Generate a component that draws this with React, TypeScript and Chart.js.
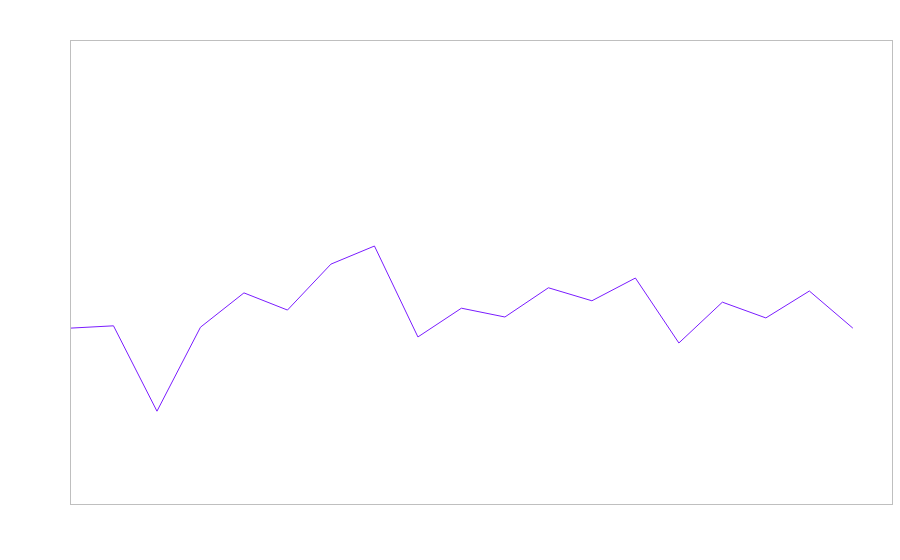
import React, { useEffect, useRef } from "react";
import { Chart, registerables } from "chart.js";

Chart.register(...registerables);

const xIndex: number[] = [0, 1, 2, 3, 4, 5, 6, 7, 8, 9, 10, 11, 12, 13, 14, 15, 16, 17, 18];
const seriesValues: number[] = [
  37.9, 38.4, 20.0, 38.1, 45.5, 41.8, 51.7, 55.6, 36.0, 42.2,
  40.3, 46.6, 43.8, 48.7, 34.7, 43.5, 40.1, 45.9, 37.9,
];
const xMin = 0;
const xMax = 18.9;
const yMin = 0;
const yMax = 100;

const frame = {
  id: "frame",
  afterDraw(chart: any) {
    const { ctx, chartArea } = chart;
    ctx.save();
    ctx.strokeStyle = "#bfbfbf";
    ctx.lineWidth = 1;
    ctx.strokeRect(
      Math.round(chartArea.left) + 0.5,
      Math.round(chartArea.top) + 0.5,
      Math.round(chartArea.right - chartArea.left),
      Math.round(chartArea.bottom - chartArea.top)
    );
    ctx.restore();
  },
};

export default function App() {
  const ref = useRef<HTMLCanvasElement | null>(null);
  useEffect(() => {
    if (!ref.current) return;
    const chart = new Chart(ref.current, {
      type: "line",
      data: {
        datasets: [
          {
            data: xIndex.map((x, i) => ({ x, y: seriesValues[i] })),
            borderColor: "#7a1cff",
            borderWidth: 1,
            pointRadius: 0,
            tension: 0,
            fill: false,
          },
        ],
      },
      options: {
        animation: false,
        responsive: false,
        layout: { padding: { left: 70, top: 40, right: 8, bottom: 56 } },
        plugins: { legend: { display: false }, tooltip: { enabled: false } },
        scales: {
          x: { type: "linear", display: false, min: xMin, max: xMax },
          y: { display: false, min: yMin, max: yMax },
        },
      },
      plugins: [frame],
    });
    return () => chart.destroy();
  }, []);
  return (
    <div style={{ position: "absolute", left: 0, top: 0, width: 900, height: 560 }}>
      <canvas ref={ref} width={900} height={560} style={{ width: 900, height: 560 }} />
    </div>
  );
}
